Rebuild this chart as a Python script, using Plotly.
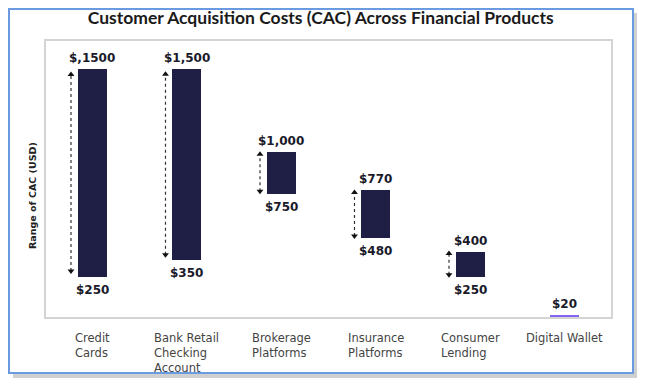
import plotly.graph_objects as go

categories = ["Credit<br>Cards", "Bank Retail<br>Checking<br>Account", "Brokerage<br>Platforms",
              "Insurance<br>Platforms", "Consumer<br>Lending", "Digital Wallet"]
low_values = [250, 350, 750, 480, 250, 0]
high_values = [1500, 1500, 1000, 770, 400, 20]
high_labels = ["$,1500", "$1,500", "$1,000", "$770", "$400", "$20"]
low_labels = ["$250", "$350", "$750", "$480", "$250", ""]
bar_colors = ["#1f1e45", "#1f1e45", "#1f1e45", "#1f1e45", "#1f1e45", "#8566f0"]
show_arrow = [True, True, True, True, True, False]

TITLE_FONT = "Lato"
FONT = "DejaVu Sans"
xs = list(range(len(categories)))

# The page body has an 8px default margin; the figure is sized/offset to compensate.
PW, PH = 567.0, 278.0   # plot area size in px
OX, OY = 45.0, 40.0     # plot area top-left in page px


def px_x(p):
    return (p - OX) / PW


def px_y(p):
    return (OY + PH - p) / PH


fig = go.Figure()
fig.add_trace(go.Bar(
    x=xs,
    y=[h - l for h, l in zip(high_values, low_values)],
    base=low_values,
    width=0.31,
    marker=dict(color=bar_colors, line=dict(width=0)),
    hoverinfo="skip",
    showlegend=False,
))

# dotted double-headed range arrows
for i, (lo, hi, sa) in enumerate(zip(low_values, high_values, show_arrow)):
    if not sa:
        continue
    ax = i - 0.225
    span = hi - lo
    fig.add_trace(go.Scatter(
        x=[ax, ax], y=[lo + span * 0.02 + 8, hi - span * 0.02 - 8],
        mode="lines", line=dict(color="#333333", width=1.2, dash="dot"),
        hoverinfo="skip", showlegend=False))
    fig.add_trace(go.Scatter(
        x=[ax, ax], y=[hi - span * 0.02 - 8, lo + span * 0.02 + 8],
        mode="markers",
        marker=dict(symbol=["triangle-up", "triangle-down"], size=6, color="#111111"),
        hoverinfo="skip", showlegend=False))

annotations = []
for i, (hi, lo, ht, lt) in enumerate(zip(high_values, low_values, high_labels, low_labels)):
    annotations.append(dict(x=i, y=hi, xref="x", yref="y", text=f"<b>{ht}</b>",
                            showarrow=False, yanchor="bottom", yshift=2,
                            font=dict(family=FONT, size=12, color="#1a1a2a")))
    if lt:
        annotations.append(dict(x=i, y=lo, xref="x", yref="y", text=f"<b>{lt}</b>",
                                showarrow=False, yanchor="top", yshift=-4,
                                font=dict(family=FONT, size=12, color="#1a1a2a")))
for i, c in enumerate(categories):
    annotations.append(dict(x=i, y=px_y(329), xref="x", yref="paper", text=c,
                            showarrow=False, xanchor="center", yanchor="top", align="left",
                            font=dict(family=FONT, size=11.5, color="#444444")))
annotations.append(dict(x=px_x(32), y=px_y(196), xref="paper", yref="paper",
                        xanchor="center", yanchor="middle",
                        text="<b>Range of CAC (USD)</b>", textangle=-90, showarrow=False,
                        font=dict(family=FONT, size=9.5, color="#222222")))

shapes = [
    # shadow
    dict(type="rect", xref="paper", yref="paper", x0=px_x(13), x1=px_x(638),
         y0=px_y(378), y1=px_y(13),
         fillcolor="rgba(120,120,120,0.35)", line=dict(width=0), layer="below"),
    # outer frame
    dict(type="rect", xref="paper", yref="paper", x0=px_x(9), x1=px_x(633),
         y0=px_y(373), y1=px_y(9),
         fillcolor="white", line=dict(color="#6a9be0", width=2), layer="below"),
    # plot border
    dict(type="rect", xref="paper", yref="paper", x0=0, x1=1, y0=0, y1=1,
         fillcolor="rgba(0,0,0,0)", line=dict(color="#d4d4d4", width=2), layer="above"),
]

fig.update_layout(
    width=637, height=379,
    margin=dict(l=37, r=33, t=32, b=69),
    paper_bgcolor="white", plot_bgcolor="white",
    title=dict(text="<b>Customer Acquisition Costs (CAC) Across Financial Products</b>",
               x=0.491, xanchor="center", y=1 - 10.0 / 379, yanchor="middle",
               font=dict(family=TITLE_FONT, size=17.5, color="#1a1a1a")),
    xaxis=dict(range=[-0.5, 5.5], showticklabels=False, showgrid=False, zeroline=False,
               ticks="", fixedrange=True),
    yaxis=dict(range=[0, 1675], showticklabels=False, showgrid=False, zeroline=False,
               ticks="", fixedrange=True),
    annotations=annotations,
    shapes=shapes,
    bargap=0,
)

fig.write_html("out.html")
